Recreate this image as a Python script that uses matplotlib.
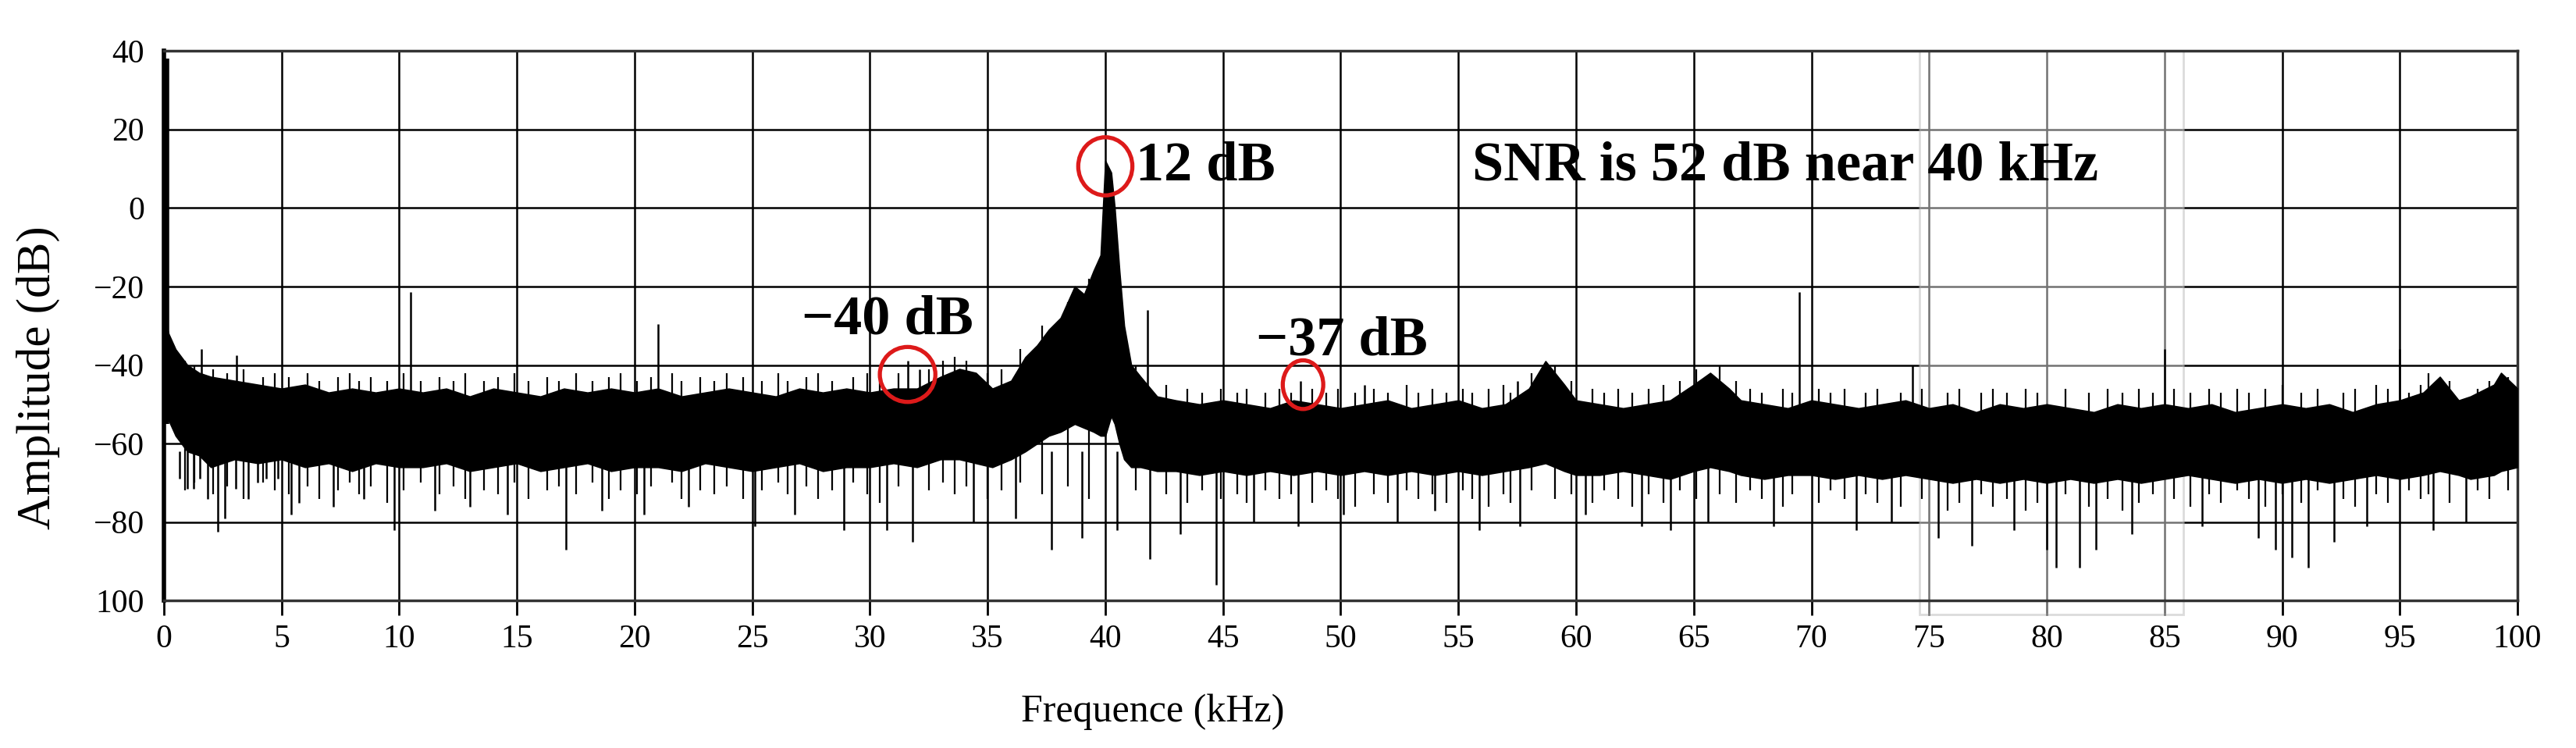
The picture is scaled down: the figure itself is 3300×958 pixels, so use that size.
import numpy as np
import matplotlib
matplotlib.use('Agg')
import matplotlib.pyplot as plt
from matplotlib.patches import Ellipse, Rectangle

# dense noise band (top / bottom of the solid black region)
band_freq = [0.0, 0.2, 0.5, 1, 1.5, 2, 3, 4, 5, 6, 7, 8, 9, 10, 11, 12, 13, 14, 15,
             16, 17, 18, 19, 20, 21, 22, 23, 24, 25, 26, 27, 28, 29, 30, 31, 32, 33,
             33.8, 34.5, 35.2, 36, 36.6, 37.1, 37.6, 38.1, 38.7, 39.1, 39.5, 39.8,
             40.0, 40.25, 40.4, 40.6, 40.8, 41.1, 41.5, 42.2, 43, 44, 45, 46, 47, 48,
             49, 50, 51, 52, 53, 54, 55, 56, 57, 58, 58.7, 59.5, 60, 61, 62, 63, 64,
             65, 65.7, 66.5, 67, 68, 69, 70, 71, 72, 73, 74, 75, 76, 77, 78, 79, 80,
             81, 82, 83, 84, 85, 86, 87, 88, 89, 90, 91, 92, 93, 94, 95, 96, 96.7,
             97.5, 98, 99, 99.3, 100]
band_top = [-28, -32, -36, -40, -42, -43, -44, -45, -46, -45, -47, -46, -47, -46, -47,
            -46, -48, -46, -47, -48, -46, -47, -46, -47, -46, -48, -47, -46, -47, -48,
            -46, -47, -46, -47, -46, -46, -43, -41, -42, -46, -44, -38, -35, -31, -28,
            -20, -22, -16, -12, 12, 9, 0, -16, -30, -40, -43, -48, -49, -50, -49, -50,
            -51, -49, -50, -51, -50, -49, -51, -50, -49, -51, -50, -46, -39, -45, -49,
            -50, -51, -50, -49, -45, -42, -46, -49, -50, -51, -49, -50, -51, -50, -49,
            -51, -50, -52, -50, -51, -50, -51, -52, -50, -51, -50, -51, -50, -52, -51,
            -50, -51, -50, -52, -50, -49, -47, -43, -49, -48, -45, -42, -46]
band_bottom = [-50, -54, -58, -62, -63, -66, -64, -65, -64, -66, -65, -67, -65, -66,
               -66, -65, -67, -66, -65, -67, -66, -65, -67, -66, -66, -67, -65, -66,
               -67, -66, -65, -67, -66, -66, -65, -66, -64, -64, -65, -66, -64, -62,
               -60, -58, -57, -55, -56, -57, -58, -58, -53, -55, -60, -64, -66, -66,
               -67, -67, -68, -67, -68, -67, -68, -67, -68, -67, -68, -67, -68, -67,
               -68, -67, -66, -65, -67, -68, -68, -67, -68, -69, -67, -66, -67, -68,
               -69, -68, -68, -69, -68, -69, -68, -69, -70, -69, -70, -69, -70, -69,
               -70, -69, -70, -69, -68, -69, -70, -69, -70, -69, -70, -69, -68, -69,
               -68, -67, -68, -69, -68, -67, -66]

# fine ripple strokes on the band edges
ripple_freq = [0.9, 1.3, 2.1, 2.7, 3.4, 4.2, 4.7, 5.3, 6.1, 6.6,
               7.4, 7.9, 8.3, 8.8, 9.5, 10.2, 10.9, 11.7, 12.3, 12.8,
               13.6, 14.2, 14.9, 15.5, 16.3, 16.8, 17.5, 18.2, 18.9, 19.4,
               20.1, 20.7, 21.6, 22.0, 22.8, 23.4, 23.9, 24.6, 25.4, 26.1,
               26.5, 27.3, 27.8, 28.4, 29.3, 29.9, 30.4, 31.2, 32.5, 33.1,
               33.6, 34.1, 35.0, 35.6, 36.4, 37.3, 38.4, 39.3, 41.3, 42.6,
               43.5, 44.1, 44.9, 45.6, 46.0, 46.8, 47.4, 47.9, 48.8, 49.4,
               49.9, 50.6, 51.4, 52.0, 52.8, 53.3, 53.9, 54.5, 55.2, 55.6,
               56.3, 56.9, 57.2, 58.1, 59.1, 59.8, 60.7, 61.2, 61.8, 62.4,
               63.1, 63.7, 64.4, 65.1, 66.1, 66.8, 67.4, 67.9, 68.8, 69.2,
               70.3, 70.8, 71.4, 72.3, 72.8, 73.8, 74.7, 75.8, 76.3, 77.2,
               77.7, 78.3, 79.1, 79.6, 80.8, 81.8, 82.6, 83.2, 83.9, 84.5,
               85.4, 86.1, 86.9, 87.4, 88.1, 88.6, 89.3, 90.0, 90.8, 91.5,
               92.6, 93.1, 94.0, 94.5, 95.4, 95.9, 96.2, 97.1, 98.3, 98.8,
               99.6]
ripple_top = [-39, -40, -41, -42, -41, -43, -42, -43, -42, -44,
              -43, -42, -44, -43, -44, -42, -44, -43, -44, -42,
              -44, -43, -42, -44, -43, -44, -42, -44, -43, -42,
              -44, -43, -42, -44, -43, -44, -42, -43, -44, -42,
              -44, -43, -42, -44, -43, -42, -43, -42, -41, -39,
              -38, -39, -42, -41, -36, -30, -24, -18, -40, -45,
              -46, -47, -46, -47, -46, -47, -46, -47, -46, -47,
              -46, -47, -46, -47, -45, -47, -46, -47, -46, -47,
              -46, -45, -47, -42, -40, -44, -46, -47, -46, -47,
              -46, -45, -44, -41, -40, -44, -46, -47, -46, -47,
              -46, -47, -46, -47, -46, -47, -46, -47, -46, -47,
              -46, -47, -46, -47, -46, -47, -46, -47, -46, -47,
              -46, -47, -46, -47, -46, -47, -46, -45, -47, -46,
              -47, -46, -45, -46, -47, -45, -42, -44, -46, -44,
              -43]
ripple_bottom = [-72, -70, -73, -71, -74, -70, -72, -73, -71, -74,
                 -72, -70, -73, -71, -75, -72, -70, -73, -71, -74,
                 -72, -73, -70, -74, -72, -71, -73, -70, -74, -72,
                 -73, -71, -70, -74, -72, -73, -71, -74, -72, -70,
                 -73, -71, -74, -72, -70, -73, -75, -71, -72, -70,
                 -73, -71, -74, -72, -70, -73, -71, -74, -72, -73,
                 -75, -72, -74, -73, -75, -72, -74, -73, -75, -72,
                 -74, -76, -73, -75, -72, -74, -73, -75, -72, -74,
                 -76, -73, -75, -72, -74, -73, -75, -72, -74, -76,
                 -73, -75, -72, -74, -73, -75, -72, -74, -76, -73,
                 -75, -72, -74, -73, -75, -76, -74, -77, -75, -73,
                 -76, -74, -77, -75, -73, -76, -74, -77, -75, -73,
                 -74, -76, -73, -75, -72, -74, -76, -73, -75, -72,
                 -74, -76, -73, -75, -72, -74, -73, -75, -72, -74,
                 -72]

# narrow peaks rising above the band
spike_freq = [0.15, 1.6, 3.1, 10.5, 21.0, 31.6, 32.1, 41.8, 48.3, 51.0, 57.5, 69.5,
              74.3, 85.0, 95.0]
spike_top = [38, -36, -37.5, -21.5, -29.5, -39, -41, -26, -44, -45, -44, -21.5,
             -40, -36, -36]

# deep dips below the band
dip_freq = [0.67, 1.0, 1.27, 1.54, 1.86, 2.29, 2.6, 3.05, 3.6, 4.0, 4.35, 4.84, 5.4,
            5.75, 7.2, 8.5, 9.8, 11.5, 13.0, 14.6, 17.1, 18.6, 20.4, 22.3, 25.1, 26.8,
            28.9, 30.7, 31.8, 34.4, 36.2, 37.7, 39.0, 40.5, 41.9, 43.2, 44.7, 46.3,
            48.2, 50.1, 52.4, 54.0, 55.9, 57.6, 60.4, 62.8, 64.0, 65.6, 68.4, 71.9,
            73.4, 75.4, 76.8, 78.6, 80.0, 80.4, 81.4, 82.1, 83.6, 86.6, 89.0, 89.7,
            90.4, 91.1, 92.2, 93.6, 96.4, 97.8]
dip_bottom = [-69, -71.5, -71.5, -69, -74, -82.5, -79, -71.5, -74, -70, -69, -69, -78,
              -75, -76, -74, -82, -77, -76, -78, -87, -77, -78, -76, -81, -78, -82, -82,
              -85, -80, -79, -87, -84, -82, -89.5, -83, -96, -80, -81, -78, -80, -77,
              -82, -81, -78, -81, -82, -80, -81, -82, -80, -84, -86, -82, -87, -91.5,
              -91.5, -87, -83, -81, -84, -87, -89, -91.5, -85, -81, -82, -80]

xticks = [0, 5, 10, 15, 20, 25, 30, 35, 40, 45, 50, 55, 60, 65, 70, 75, 80, 85, 90, 95, 100]
yticks = [40, 20, 0, -20, -40, -60, -80, -100]
ytick_labels = ['40', '20', '0', '\u221220', '\u221240', '\u221260', '\u221280', '100']

plt.rcParams['font.family'] = ['Liberation Serif', 'DejaVu Serif']

fig = plt.figure(figsize=(33, 9.58), dpi=100)
ax = fig.add_axes([0.0636, 0.197, 0.9137, 0.735])

ax.fill_between(band_freq, band_bottom, band_top, color='black', lw=1.2, zorder=3)
ax.vlines(ripple_freq, ripple_bottom, ripple_top, color='black', lw=1.6, zorder=3)
ax.vlines(spike_freq, -55, spike_top, color='black',
          lw=[4] + [1.8] * (len(spike_freq) - 1), zorder=3)
ax.vlines(dip_freq, dip_bottom, -62, color='black', lw=1.8, zorder=3)

# the pasted-in lighter block around 75-86 kHz
ax.add_patch(Rectangle((74.6, -0.025), 11.2, 1.025, transform=ax.get_xaxis_transform(),
                       facecolor='white', alpha=0.45, edgecolor='#b0b0b0', lw=2,
                       zorder=1, clip_on=False))

# red circles
red = '#dd1a1a'
ax.add_patch(Ellipse((40.0, 10.6), 2.3, 14.8, fill=False, edgecolor=red, lw=3.8, zorder=4))
ax.add_patch(Ellipse((31.6, -42.4), 2.36, 14.0, fill=False, edgecolor=red, lw=3.8, zorder=4))
ax.add_patch(Ellipse((48.4, -45.0), 1.72, 12.4, fill=False, edgecolor=red, lw=3.8, zorder=4))

bold = dict(fontsize=52, fontweight='bold', va='baseline', ha='left', zorder=5)
ax.text(41.3, 7.2, '12 dB', **bold)
ax.text(27.1, -32, '\u221240 dB', **bold)
ax.text(46.4, -37.5, '\u221237 dB', **bold)
ax.text(55.6, 7.1, 'SNR is 52 dB near 40 kHz', **bold)

ax.set_xlim(0, 100)
ax.set_ylim(-100, 40)
ax.set_xticks(xticks)
ax.set_xticklabels([str(t) for t in xticks])
ax.set_yticks(yticks)
ax.set_yticklabels(ytick_labels)
ax.set_axisbelow(True)
ax.grid(True, color='black', lw=1.8)
ax.tick_params(axis='x', direction='out', length=14, width=2, pad=8, labelsize=30)
ax.tick_params(axis='y', length=0, pad=18, labelsize=30)
for s in ['top', 'right', 'bottom']:
    ax.spines[s].set_linewidth(2.5)
    ax.spines[s].set_color('#333333')
ax.spines['left'].set_linewidth(4)

ax.set_xlabel('Frequence (kHz)', fontsize=36)
ax.xaxis.set_label_coords(0.42, -0.17)
ax.set_ylabel('Amplitude (dB)', fontsize=44)
ax.yaxis.set_label_coords(-0.044, 0.405)

fig.savefig('out.png', dpi=100)
